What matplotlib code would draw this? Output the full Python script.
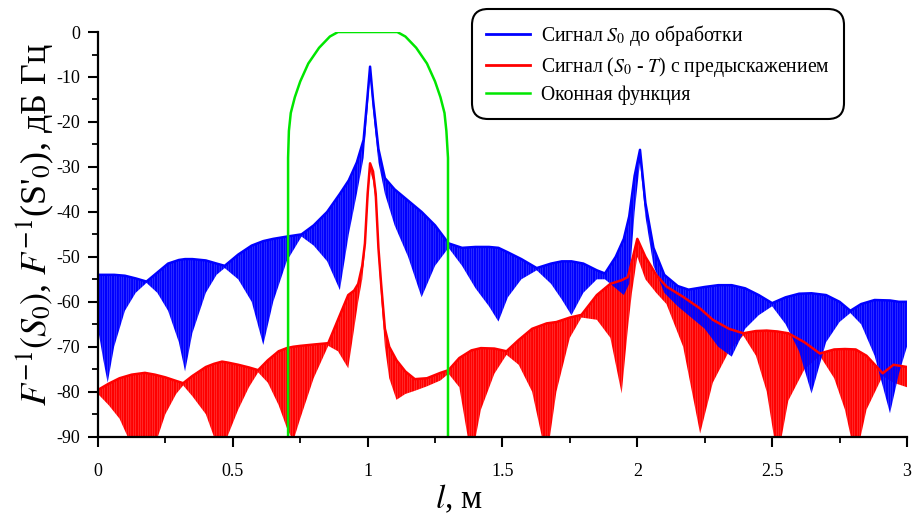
import numpy as np
import matplotlib
matplotlib.use("Agg")
import matplotlib.pyplot as plt
from matplotlib.ticker import MultipleLocator, FuncFormatter

# ---- data (envelopes of the fast oscillation) ----
blue_x = [0.00, 0.02, 0.036, 0.06, 0.10, 0.14, 0.18, 0.22, 0.26, 0.30, 0.323, 0.35,
          0.40, 0.44, 0.47, 0.52, 0.57, 0.613, 0.65, 0.70, 0.755, 0.80, 0.85, 0.897,
          0.93, 0.96, 0.985, 1.00, 1.009, 1.02, 1.04, 1.064, 1.10, 1.15, 1.20, 1.25,
          1.30, 1.35, 1.40, 1.45, 1.485, 1.52, 1.57, 1.627, 1.68, 1.72, 1.756, 1.80,
          1.85, 1.88, 1.92, 1.95, 1.97, 1.99, 2.01, 2.03, 2.06, 2.10, 2.15, 2.19,
          2.25, 2.30, 2.35, 2.40, 2.45, 2.50, 2.55, 2.60, 2.646, 2.70, 2.75, 2.79,
          2.83, 2.88, 2.937, 2.97, 3.00]
blue_hi = [-54.0, -54.0, -54.0, -54.0, -54.2, -54.8, -55.5, -53.5, -51.5, -50.7, -50.5, -50.5,
           -50.8, -51.5, -52.0, -49.5, -47.5, -46.5, -46.0, -45.5, -45.0, -43.0, -40.0, -36.0,
           -33.0, -29.0, -24.0, -14.0, -7.7, -15.0, -26.0, -32.5, -35.0, -37.5, -40.0, -43.0,
           -47.0, -48.0, -47.8, -47.8, -48.0, -49.0, -50.5, -52.5, -51.5, -51.0, -51.0, -51.5,
           -53.0, -53.7, -50.0, -46.0, -41.0, -32.0, -26.2, -38.0, -48.0, -54.0, -56.5, -57.3,
           -56.7, -56.3, -56.3, -57.0, -58.5, -60.3, -59.0, -58.2, -58.1, -58.5, -60.0, -62.0,
           -60.5, -59.6, -59.7, -60.0, -60.0]
blue_lo = [-66.0, -73.0, -78.0, -70.0, -62.0, -58.0, -55.8, -58.0, -62.0, -69.0, -75.5, -67.0,
           -58.0, -54.0, -52.5, -55.0, -60.0, -69.6, -60.0, -51.0, -45.5, -47.5, -51.0, -57.4,
           -45.0, -36.0, -28.0, -17.0, -9.5, -17.5, -29.0, -36.0, -43.0, -50.0, -59.0, -52.0,
           -48.0, -52.0, -57.0, -61.0, -64.4, -59.0, -55.0, -53.0, -56.0, -59.5, -63.0, -58.0,
           -55.0, -55.0, -57.0, -58.5, -56.0, -40.0, -29.0, -41.0, -52.0, -58.0, -61.0, -63.0,
           -66.0, -70.0, -72.2, -66.0, -63.0, -61.0, -65.0, -71.0, -80.4, -69.0, -64.5, -62.5,
           -65.0, -72.0, -84.8, -76.0, -70.0]

red_x = [0.00, 0.04, 0.08, 0.125, 0.174, 0.211, 0.25, 0.29, 0.316, 0.35, 0.40, 0.43,
         0.46, 0.48, 0.52, 0.56, 0.594, 0.63, 0.67, 0.70, 0.724, 0.75, 0.80, 0.854,
         0.89, 0.928, 0.95, 0.965, 0.98, 0.99, 1.00, 1.009, 1.02, 1.03, 1.04, 1.05,
         1.064, 1.08, 1.107, 1.14, 1.175, 1.22, 1.27, 1.30, 1.34, 1.385, 1.42, 1.47,
         1.515, 1.56, 1.61, 1.664, 1.70, 1.75, 1.793, 1.85, 1.90, 1.942, 1.965, 1.98,
         2.00, 2.03, 2.07, 2.108, 2.17, 2.233, 2.28, 2.34, 2.393, 2.44, 2.48, 2.52,
         2.56, 2.62, 2.677, 2.73, 2.77, 2.81, 2.85, 2.91, 2.95, 3.00]
red_hi = [-79.6, -78.2, -77.0, -76.2, -75.8, -76.2, -76.8, -77.6, -78.1, -76.5, -74.5, -73.8,
          -73.3, -73.5, -74.0, -74.6, -75.2, -73.0, -71.0, -70.3, -70.0, -69.8, -69.5, -69.2,
          -64.0, -58.5, -57.5, -56.0, -52.0, -47.0, -36.0, -29.2, -31.0, -36.0, -48.0, -56.0,
          -66.0, -70.0, -73.0, -75.5, -77.2, -77.0, -75.8, -75.2, -72.5, -70.8, -70.3, -70.4,
          -71.0, -68.5, -66.0, -64.8, -64.5, -63.5, -62.9, -58.5, -56.0, -55.2, -54.5, -51.0,
          -46.0, -50.0, -54.0, -56.6, -58.9, -61.5, -64.0, -66.0, -67.0, -66.5, -66.4, -66.6,
          -67.0, -69.0, -71.5, -70.6, -70.5, -70.6, -72.0, -75.9, -74.0, -74.5]
red_lo = [-80.5, -83.0, -86.0, -92.0, -96.0, -92.0, -85.0, -80.5, -78.6, -81.0, -85.0, -90.0,
          -95.0, -90.0, -84.0, -79.0, -75.7, -78.0, -83.0, -88.0, -91.0, -86.0, -77.0, -69.8,
          -71.0, -74.8, -66.0, -60.0, -55.0, -49.0, -38.0, -31.0, -33.0, -38.0, -50.0, -59.0,
          -70.0, -77.0, -81.8, -80.5, -79.8, -78.8, -77.5, -76.0, -79.0, -95.0, -84.0, -76.0,
          -71.8, -74.0, -80.0, -95.0, -80.0, -68.0, -63.5, -64.0, -68.0, -80.4, -66.0, -58.0,
          -50.0, -55.0, -58.0, -60.5, -70.0, -89.3, -78.0, -71.0, -67.5, -72.0, -80.0, -95.0,
          -82.0, -75.0, -72.0, -77.0, -84.0, -95.0, -84.0, -76.5, -78.0, -79.0]

win_x = [0.705, 0.705, 0.708, 0.715, 0.73, 0.75, 0.78, 0.82, 0.86, 0.89,
         1.11, 1.14, 1.18, 1.22, 1.25, 1.27, 1.285, 1.292, 1.298, 1.298]
win_y = [-90, -28, -22, -18, -14.5, -11, -7, -3.5, -1, 0,
         0, -1, -3.5, -7, -11, -14.5, -18, -22, -28, -90]

labels = ["Сигнал $S_0$ до обработки",
          "Сигнал ($S_0$ - $T$) с предыскажением",
          "Оконная функция"]

plt.rcParams["font.family"] = ["Liberation Serif", "DejaVu Serif"]
plt.rcParams["mathtext.fontset"] = "stix"
plt.rcParams["axes.unicode_minus"] = False
plt.rcParams["hatch.linewidth"] = 1.6

BLUE = "#0000ff"
RED = "#ff0000"
GREEN = "#00e600"

fig = plt.figure(figsize=(9.13, 5.14), dpi=100)
ax = fig.add_axes([0.1073, 0.1504, 0.8861, 0.7873])


def band(x, hi, lo, color):
    # striped band imitating the dense oscillation
    ax.fill_between(x, lo, hi, facecolor="none", edgecolor=color,
                    hatch="|||||||", linewidth=0)
    ax.plot(x, hi, color=color, linewidth=1.8)


band(red_x, red_hi, red_lo, RED)
band(blue_x, blue_hi, blue_lo, BLUE)

h1, = ax.plot([], [], color=BLUE, linewidth=2)
h2, = ax.plot([], [], color=RED, linewidth=2)
h3, = ax.plot(win_x, win_y, color=GREEN, linewidth=1.8)

ax.set_xlim(0, 3)
ax.set_ylim(-90, 0)
ax.xaxis.set_major_locator(MultipleLocator(0.5))
ax.xaxis.set_minor_locator(MultipleLocator(0.25))
ax.yaxis.set_major_locator(MultipleLocator(10))
ax.yaxis.set_minor_locator(MultipleLocator(5))
ax.xaxis.set_major_formatter(FuncFormatter(lambda v, p: f"{v:g}"))
ax.yaxis.set_major_formatter(FuncFormatter(lambda v, p: f"{v:g}"))

for s in ["top", "right"]:
    ax.spines[s].set_visible(False)
for s in ["left", "bottom"]:
    ax.spines[s].set_linewidth(1.6)

ax.tick_params(which="major", direction="out", length=7, width=1.5, labelsize=13)
ax.tick_params(which="minor", direction="out", length=4, width=1.3)
ax.tick_params(axis="x", which="major", pad=12)
ax.tick_params(axis="y", which="major", pad=6)

ax.set_xlabel("$l$, м", fontsize=24)
ax.xaxis.set_label_coords(0.446, -0.115)
ax.set_ylabel("$F^{-1}(S_0)$, $F^{-1}$(S'$_0$), дБ Гц", fontsize=26)
ax.yaxis.set_label_coords(-0.052, 0.523)

leg = ax.legend([h1, h2, h3], labels, loc="upper left",
                bbox_to_anchor=(0.455, 1.072), fontsize=14.2,
                handlelength=2.25, handletextpad=0.55, labelspacing=0.36,
                borderpad=0.5, fancybox=True, framealpha=1)
leg.get_frame().set_edgecolor("black")
leg.get_frame().set_linewidth(1.5)
leg.get_frame().set_boxstyle("round,pad=0.2,rounding_size=0.8")

fig.savefig("out.png", dpi=100)
